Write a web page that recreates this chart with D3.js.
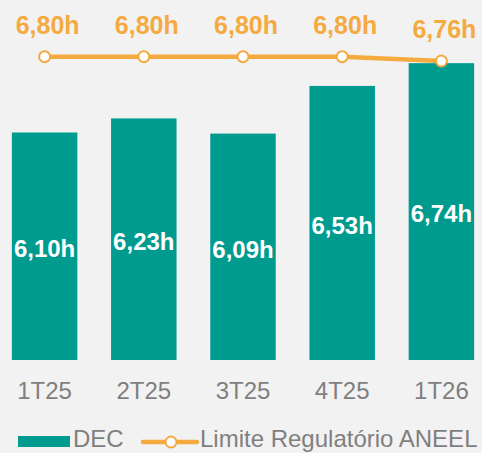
<!DOCTYPE html>
<html>
<head>
<meta charset="utf-8">
<script src="https://cdn.jsdelivr.net/npm/d3@7"></script>
<style>
  html, body { margin: 0; padding: 0; background: #f2f2f2; }
  svg { display: block; font-family: "Liberation Sans", Arial, sans-serif; }
</style>
</head>
<body>
<div id="chart"></div>
<script>
const periods = ["1T25", "2T25", "3T25", "4T25", "1T26"];
const decValues = [6.10, 6.23, 6.09, 6.53, 6.74];
const limitValues = [6.80, 6.80, 6.80, 6.80, 6.76];
const seriesNames = ["DEC", "Limite Regulatório ANEEL"];

const width = 482;
const height = 453;
const teal = "#009b8f";
const orange = "#f5aa40";
const gray = "#7f7f7f";
const fmt = (v) => d3.format(".2f")(v).replace(".", ",") + "h";

const svg = d3.select("#chart").append("svg")
  .attr("width", width)
  .attr("height", height);

svg.append("rect").attr("width", width).attr("height", height).attr("fill", "#f2f2f2");

const x = d3.scaleBand()
  .domain(periods)
  .range([-5, 491])
  .paddingInner(0.34)
  .paddingOuter(0.17);

const y = d3.scaleLinear()
  .domain([4, 7])
  .range([360, 35]);

// bars
svg.append("g")
  .selectAll("rect")
  .data(decValues)
  .join("rect")
  .attr("x", (d, i) => x(periods[i]))
  .attr("y", (d) => y(d))
  .attr("width", x.bandwidth())
  .attr("height", (d) => y.range()[0] - y(d))
  .attr("fill", teal);

svg.append("g")
  .selectAll("text")
  .data(decValues)
  .join("text")
  .attr("x", (d, i) => x(periods[i]) + x.bandwidth() / 2)
  .attr("y", (d) => (y(d) + y.range()[0]) / 2)
  .attr("dy", "0.45em")
  .attr("text-anchor", "middle")
  .attr("fill", "#fff")
  .attr("font-weight", "bold")
  .attr("font-size", 24)
  .text(fmt);

// x axis labels
const xAxis = svg.append("g")
  .attr("transform", `translate(0,${y.range()[0]})`)
  .call(d3.axisBottom(x).tickSize(0).tickPadding(22));
xAxis.select(".domain").remove();
xAxis.selectAll("text")
  .attr("fill", gray)
  .attr("font-size", 24)
  .attr("font-family", "Liberation Sans, Arial, sans-serif");

// limit line
const cx = (i) => x(periods[i]) + x.bandwidth() / 2;
const line = d3.line().x((d, i) => cx(i)).y((d) => y(d));

svg.append("path")
  .datum(limitValues)
  .attr("d", line)
  .attr("fill", "none")
  .attr("stroke", orange)
  .attr("stroke-width", 4.5);

svg.append("g")
  .selectAll("circle")
  .data(limitValues)
  .join("circle")
  .attr("cx", (d, i) => cx(i))
  .attr("cy", (d) => y(d))
  .attr("r", 5.5)
  .attr("fill", "#fff")
  .attr("stroke", orange)
  .attr("stroke-width", 2);

svg.append("g")
  .selectAll("text")
  .data(limitValues)
  .join("text")
  .attr("x", (d, i) => cx(i) + 3)
  .attr("y", (d) => y(d) - 23)
  .attr("text-anchor", "middle")
  .attr("fill", orange)
  .attr("font-weight", "bold")
  .attr("font-size", 25)
  .text(fmt);

// legend
const legend = svg.append("g").attr("transform", "translate(0,440)");
legend.append("rect")
  .attr("x", 18).attr("y", -4)
  .attr("width", 52).attr("height", 11)
  .attr("fill", teal);
legend.append("text")
  .attr("x", 73).attr("y", 7)
  .attr("fill", gray).attr("font-size", 24)
  .text(seriesNames[0]);
legend.append("line")
  .attr("x1", 143).attr("x2", 197)
  .attr("y1", 2).attr("y2", 2)
  .attr("stroke", orange).attr("stroke-width", 4.5)
  .attr("stroke-linecap", "round");
legend.append("circle")
  .attr("cx", 171).attr("cy", 2).attr("r", 5.5)
  .attr("fill", "#fff").attr("stroke", orange).attr("stroke-width", 2);
legend.append("text")
  .attr("x", 200).attr("y", 7)
  .attr("fill", gray).attr("font-size", 24)
  .text(seriesNames[1]);
</script>
</body>
</html>
